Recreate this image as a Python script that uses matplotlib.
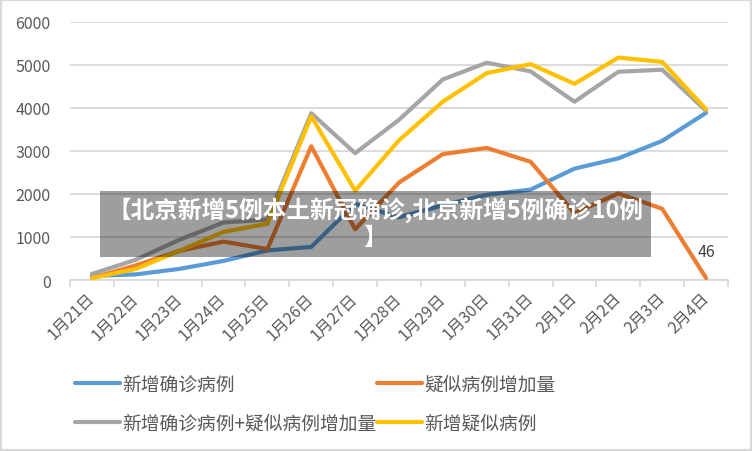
import matplotlib
matplotlib.use("Agg")
import matplotlib.pyplot as plt
from matplotlib.patches import Rectangle
import numpy as np

plt.rcParams['font.family'] = ['Noto Sans CJK SC', 'DejaVu Sans']

dates = ['1月21日', '1月22日', '1月23日', '1月24日', '1月25日', '1月26日', '1月27日',
         '1月28日', '1月29日', '1月30日', '1月31日', '2月1日', '2月2日', '2月3日', '2月4日']
confirmed = [95, 131, 259, 444, 688, 769, 1771, 1459, 1737, 1982, 2102, 2590, 2829, 3235, 3887]
suspect_inc = [45, 340, 679, 893, 719, 3110, 1179, 2266, 2928, 3071, 2750, 1556, 2014, 1656, 46]
conf_plus_inc = [140, 471, 938, 1337, 1407, 3879, 2950, 3725, 4665, 5053, 4852, 4146, 4843, 4891, 3933]
new_suspect = [45, 257, 680, 1118, 1309, 3806, 2077, 3248, 4148, 4812, 5019, 4562, 5173, 5072, 3971]

series_names = ['新增确诊病例', '疑似病例增加量', '新增确诊病例+疑似病例增加量', '新增疑似病例']
colors = ['#5B9BD5', '#ED7D31', '#A5A5A5', '#FFC000']
yticks = [0, 1000, 2000, 3000, 4000, 5000, 6000]
title = '【北京新增5例本土新冠确诊,北京新增5例确诊10例\n】'

W, H = 752, 452
fig = plt.figure(figsize=(W / 100, H / 100), dpi=100)
ax = fig.add_axes([70 / W, 1 - 281 / H, (728 - 70) / W, (281 - 23) / H])

x = np.arange(len(dates))
lines = []
for vals, c, name in zip([confirmed, suspect_inc, conf_plus_inc, new_suspect], colors, series_names):
    l, = ax.plot(x, vals, color=c, lw=3.0, label=name, solid_capstyle='round', solid_joinstyle='round', zorder=3)
    lines.append(l)

ax.set_xlim(-0.5, len(dates) - 0.5)
ax.set_ylim(0, 6000)
ax.set_yticks(yticks)
ax.set_yticklabels([str(v) for v in yticks], fontsize=11.5, color='#595959')
ax.tick_params(axis='y', length=0, pad=14)
ax.yaxis.grid(True, color='#D9D9D9', lw=1.3)
ax.set_axisbelow(True)

ax.set_xticks(x)
ax.set_xticklabels(dates, rotation=45, ha='right', va='center', rotation_mode='anchor',
                   fontsize=11.5, color='#595959')
ax.tick_params(axis='x', length=0, pad=11)
ax.set_xticks(np.arange(-0.5, len(dates), 1.0), minor=True)
ax.tick_params(axis='x', which='minor', length=5, color='#D9D9D9', width=1.3)

for s in ['top', 'right', 'left']:
    ax.spines[s].set_visible(False)
ax.spines['bottom'].set_color('#D9D9D9')
ax.spines['bottom'].set_linewidth(1.3)

# data label
ax.annotate(str(suspect_inc[-1]), (x[-1], suspect_inc[-1]), xytext=(0, 27), textcoords='offset pixels',
            ha='center', va='center', fontsize=11.5, color='#404040')

# legend (column-major fill -> order so rows read blue/orange, gray/yellow)
order = [0, 2, 1, 3]
leg = fig.legend(handles=[lines[i] for i in order], labels=[series_names[i] for i in order],
                 loc='upper left', bbox_to_anchor=(75 / W, 1 - 375 / H), ncol=2, frameon=False,
                 fontsize=13.5, handlelength=2.4, handletextpad=0.12, columnspacing=0.0,
                 labelspacing=0.95, borderpad=0, borderaxespad=0)
for t in leg.get_texts():
    t.set_color('#595959')

# overlay banner
fig.patches.append(Rectangle((100 / W, 1 - 258 / H), (651 - 100) / W, (258 - 192) / H,
                             transform=fig.transFigure, facecolor='black', alpha=0.38,
                             edgecolor='none', zorder=10))
fig.text(375 / W, 1 - 224 / H, title, ha='center', va='center', color='white', fontsize=17,
         fontweight='heavy', linespacing=1.15, zorder=11)

# chart border
fig.patches.append(Rectangle((0, 0), 1, 1, transform=fig.transFigure, facecolor='none',
                             edgecolor='#D9D9D9', lw=3, zorder=12))

fig.savefig('out.png', dpi=100)
